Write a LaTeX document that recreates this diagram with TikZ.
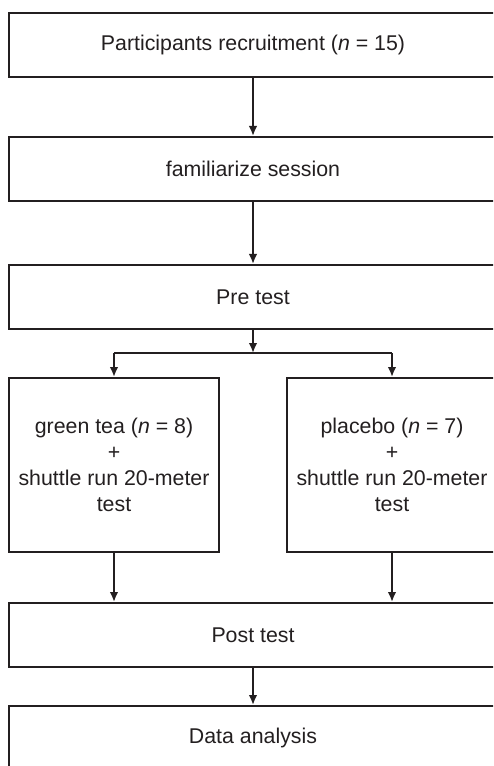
\documentclass[tikz,border=0pt]{standalone}
\usepackage{fontspec}
\setmainfont{Liberation Sans}
\usepackage{tikz}
\usetikzlibrary{positioning,arrows.meta}
\definecolor{ink}{RGB}{35,31,32}

\tikzset{
  stage/.style={draw=ink, line width=1.5pt, text=ink, align=center,
    minimum width=366pt, minimum height=48pt, inner sep=0pt,
    font=\fontsize{16}{19.5}\selectfont},
  arm/.style={stage, minimum width=157.5pt, minimum height=130.5pt},
  flow/.style={draw=ink, line width=1.5pt, -{Latex[length=7.5pt,width=6.5pt]}}
}

\begin{document}
\begin{tikzpicture}[x=0.75pt,y=-0.75pt]
  % Page frame (boxes run off the right and bottom edges)
  \useasboundingbox (0,0) rectangle (493,766);
  \clip (0,0) rectangle (493,766);
  % Main stages
  \node[stage] (recruit) at (253,45) {Participants recruitment (\textit{n} = 15)};
  \node[stage] (familiar) at (253,169) {familiarize session};
  \node[stage] (pretest) at (253,297) {Pre test};
  % The two groups
  \node[arm] (greentea) at (114,465) {green tea (\textit{n} = 8)\\+\\shuttle run 20-meter\\test};
  \node[arm] (placebo) at (392,465) {placebo (\textit{n} = 7)\\+\\shuttle run 20-meter\\test};
  \node[stage] (posttest) at (253,635) {Post test};
  \node[stage] (analysis) at (253,738) {Data analysis};
  % Split point under the pre test
  \coordinate (split) at (253,353);
  \coordinate (splitL) at (greentea.north |- split);
  \coordinate (splitR) at (placebo.north |- split);
  % Arrows
  \draw[flow] (recruit) -- (familiar);
  \draw[flow] (familiar) -- (pretest);
  \draw[flow] (pretest) -- (split);
  \draw[draw=ink, line width=1.5pt] (splitL) -- (splitR);
  \draw[flow] (splitL) -- (greentea);
  \draw[flow] (splitR) -- (placebo);
  \draw[flow] (greentea) -- (greentea.south |- posttest.north);
  \draw[flow] (placebo) -- (placebo.south |- posttest.north);
  \draw[flow] (posttest) -- (analysis);
\end{tikzpicture}
\end{document}
